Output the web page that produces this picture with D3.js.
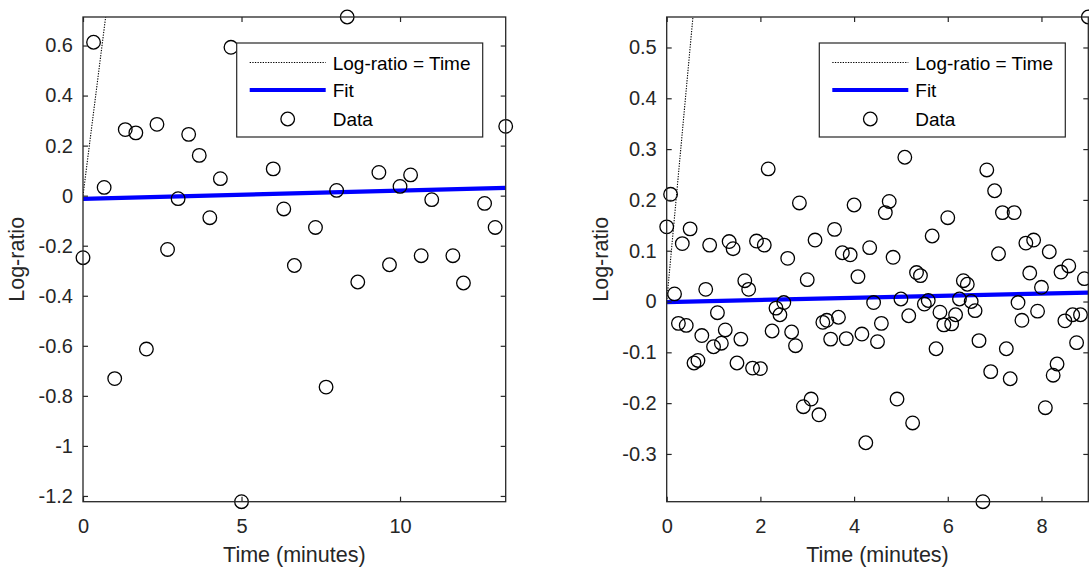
<!DOCTYPE html>
<html><head><meta charset="utf-8">
<script src="https://cdn.jsdelivr.net/npm/d3@7"></script>
<style>
html,body{margin:0;padding:0;background:#fff;}
svg{display:block;font-family:"Liberation Sans",Arial,sans-serif;}
</style></head>
<body><svg id="chart" width="1089" height="570"></svg>
<script>
// ---- Left panel data ----
const leftTime = [0, 0.333, 0.667, 1, 1.333, 1.667, 2, 2.333, 2.667, 3, 3.333, 3.667, 4, 4.333, 4.667, 5,
  6, 6.333, 6.667, 7.333, 7.667, 8, 8.333, 8.667, 9.333, 9.667, 10, 10.333, 10.667, 11, 11.667, 12, 12.667, 13, 13.333];
const leftLogRatio = [-0.248, 0.613, 0.033, -0.731, 0.264, 0.251, -0.613, 0.285, -0.215, -0.012, 0.245, 0.161, -0.088, 0.068, 0.593, -1.223,
  0.107, -0.053, -0.279, -0.127, -0.765, 0.021, 0.714, -0.345, 0.093, -0.276, 0.037, 0.083, -0.24, -0.016, -0.24, -0.349, -0.031, -0.127, 0.277];
const leftFitEnds = [-0.013, 0.031];
const leftXDomain = [0, 13.333];
const leftYDomain = [-1.223, 0.714];
const leftXTicks = [0, 5, 10];
const leftYTicks = [-1.2, -1, -0.8, -0.6, -0.4, -0.2, 0, 0.2, 0.4, 0.6];

// ---- Right panel data ----
const rightTime = [0, 0.083, 0.167, 0.25, 0.333, 0.417, 0.5, 0.583, 0.667, 0.75, 0.833, 0.917,
  1, 1.083, 1.167, 1.25, 1.333, 1.417, 1.5, 1.583, 1.667, 1.75, 1.833, 1.917,
  2, 2.083, 2.167, 2.25, 2.333, 2.417, 2.5, 2.583, 2.667, 2.75, 2.833, 2.917,
  3, 3.083, 3.167, 3.25, 3.333, 3.417, 3.5, 3.583, 3.667, 3.75, 3.833, 3.917,
  4, 4.083, 4.167, 4.25, 4.333, 4.417, 4.5, 4.583, 4.667, 4.75, 4.833, 4.917,
  5, 5.083, 5.167, 5.25, 5.333, 5.417, 5.5, 5.583, 5.667, 5.75, 5.833, 5.917,
  6, 6.083, 6.167, 6.25, 6.333, 6.417, 6.5, 6.583, 6.667, 6.75, 6.833, 6.917,
  7, 7.083, 7.167, 7.25, 7.333, 7.417, 7.5, 7.583, 7.667, 7.75, 7.833, 7.917,
  8, 8.083, 8.167, 8.25, 8.333, 8.417, 8.5, 8.583, 8.667, 8.75, 8.833, 8.917, 9];
const rightLogRatio = [0.147, 0.211, 0.015, -0.043, 0.114, -0.047, 0.143, -0.121, -0.116, -0.067,
  0.024, 0.111, -0.089, -0.022, -0.082, -0.056, 0.118, 0.104, -0.121, -0.074,
  0.041, 0.024, -0.131, 0.119, -0.132, 0.111, 0.261, -0.058, -0.013, -0.026,
  -0.002, 0.085, -0.060, -0.087, 0.194, -0.207, 0.043, -0.192, 0.121, -0.223,
  -0.041, -0.037, -0.074, 0.142, -0.031, 0.096, -0.073, 0.092, 0.190, 0.049,
  -0.064, -0.278, 0.106, -0.002, -0.079, -0.043, 0.175, 0.197, 0.087, -0.192,
  0.005, 0.284, -0.028, -0.239, 0.057, 0.051, -0.005, 0.002, 0.129, -0.093,
  -0.021, -0.046, 0.165, -0.044, -0.026, 0.005, 0.041, 0.034, 0.000, -0.018,
  -0.077, -0.394, 0.259, -0.138, 0.218, 0.094, 0.175, -0.093, -0.152, 0.175,
  -0.002, -0.037, 0.115, 0.056, 0.121, -0.019, 0.028, -0.209, 0.098, -0.145,
  -0.123, 0.058, -0.038, 0.070, -0.026, -0.081, -0.026, 0.045, 0.560];
const rightFitEnds = [-0.001, 0.0177];
const rightXDomain = [0, 9];
const rightYDomain = [-0.394, 0.560];
const rightXTicks = [0, 2, 4, 6, 8];
const rightYTicks = [-0.3, -0.2, -0.1, 0, 0.1, 0.2, 0.3, 0.4, 0.5];

const legendLabels = ["Log-ratio = Time", "Fit", "Data"];
const xLabel = "Time (minutes)";
const yLabel = "Log-ratio";

const svg = d3.select("#chart");
const axisColor = "#262626";
const fmt = v => String(Math.round(v * 10) / 10);

function panel(id, x0, x1, y0, y1, xs, ys, fitEnds, xDom, yDom, xTicks, yTicks) {
  const x = d3.scaleLinear().domain(xDom).range([x0, x1]);
  const y = d3.scaleLinear().domain(yDom).range([y1, y0]);
  const g = svg.append("g");

  g.append("clipPath").attr("id", "clip" + id)
    .append("rect").attr("x", x0).attr("y", y0).attr("width", x1 - x0).attr("height", y1 - y0);

  // identity line (Log-ratio = Time)
  g.append("line").attr("clip-path", `url(#clip${id})`)
    .attr("x1", x(0)).attr("y1", y(0))
    .attr("x2", x(yDom[1] + 1)).attr("y2", y(yDom[1] + 1))
    .attr("stroke", "#000").attr("stroke-width", 1.1).attr("stroke-dasharray", "1.3,1.3");

  // fit line
  g.append("line").attr("clip-path", `url(#clip${id})`)
    .attr("x1", x(xDom[0])).attr("y1", y(fitEnds[0]))
    .attr("x2", x(xDom[1])).attr("y2", y(fitEnds[1]))
    .attr("stroke", "#0000ff").attr("stroke-width", 4.2);

  // data
  g.append("g").selectAll("circle").data(xs.map((t, i) => [t, ys[i]])).join("circle")
    .attr("cx", d => x(d[0])).attr("cy", d => y(d[1])).attr("r", 6.8)
    .attr("fill", "none").attr("stroke", "#000").attr("stroke-width", 1.3);

  // axes with inward ticks on all sides
  const tl = 5;
  const axB = d3.axisBottom(x).tickValues(xTicks).tickSize(-tl).tickPadding(12).tickFormat(fmt);
  const axL = d3.axisLeft(y).tickValues(yTicks).tickSize(-tl).tickPadding(10).tickFormat(fmt);
  const axT = d3.axisTop(x).tickValues(xTicks).tickSize(-tl).tickFormat("");
  const axR = d3.axisRight(y).tickValues(yTicks).tickSize(-tl).tickFormat("");

  const style = sel => {
    sel.select(".domain").remove();
    sel.selectAll("line").attr("stroke", axisColor).attr("stroke-width", 1.2);
    sel.selectAll("text").attr("fill", axisColor).style("font-size", "20px")
      .style("font-family", "'Liberation Sans',Arial,sans-serif");
  };
  g.append("g").attr("transform", `translate(0,${y1})`).call(axB).call(style)
    .selectAll("text").attr("dy", null).attr("y", 31);
  g.append("g").attr("transform", `translate(${x0},0)`).call(axL).call(style);
  g.append("g").attr("transform", `translate(0,${y0})`).call(axT).call(style);
  g.append("g").attr("transform", `translate(${x1},0)`).call(axR).call(style);

  g.append("rect").attr("x", x0).attr("y", y0).attr("width", x1 - x0).attr("height", y1 - y0)
    .attr("fill", "none").attr("stroke", axisColor).attr("stroke-width", 1.3);

  // labels
  g.append("text").attr("x", (x0 + x1) / 2).attr("y", 562).attr("text-anchor", "middle")
    .attr("fill", axisColor).style("font-size", "21.5px").text(xLabel);
  g.append("text").attr("transform", `translate(${x0 - 59},${(y0 + y1) / 2}) rotate(-90)`)
    .attr("text-anchor", "middle").attr("fill", axisColor).style("font-size", "21.5px").text(yLabel);

  // legend
  const lw = 246, lh = 94, lx = x1 - 23 - lw, ly = 43;
  const lg = g.append("g");
  lg.append("rect").attr("x", lx).attr("y", ly).attr("width", lw).attr("height", lh)
    .attr("fill", "#fff").attr("stroke", axisColor).attr("stroke-width", 1.2);
  const rows = [ly + 19.5, ly + 47, ly + 76];
  const sx0 = lx + 13, sx1 = lx + 89;
  lg.append("line").attr("x1", sx0).attr("x2", sx1).attr("y1", rows[0]).attr("y2", rows[0])
    .attr("stroke", "#000").attr("stroke-width", 1.1).attr("stroke-dasharray", "1.3,1.3");
  lg.append("line").attr("x1", sx0).attr("x2", sx1).attr("y1", rows[1]).attr("y2", rows[1])
    .attr("stroke", "#0000ff").attr("stroke-width", 4.2);
  lg.append("circle").attr("cx", (sx0 + sx1) / 2).attr("cy", rows[2]).attr("r", 6.8)
    .attr("fill", "none").attr("stroke", "#000").attr("stroke-width", 1.3);
  legendLabels.forEach((t, i) => {
    lg.append("text").attr("x", lx + 96).attr("y", rows[i] + 7).attr("fill", "#000")
      .style("font-size", "19px").text(t);
  });
}

panel("L", 83, 505.7, 17, 501.7, leftTime, leftLogRatio, leftFitEnds, leftXDomain, leftYDomain, leftXTicks, leftYTicks);
panel("R", 666.7, 1088.3, 17, 501.7, rightTime, rightLogRatio, rightFitEnds, rightXDomain, rightYDomain, rightXTicks, rightYTicks);
</script>
</body></html>
